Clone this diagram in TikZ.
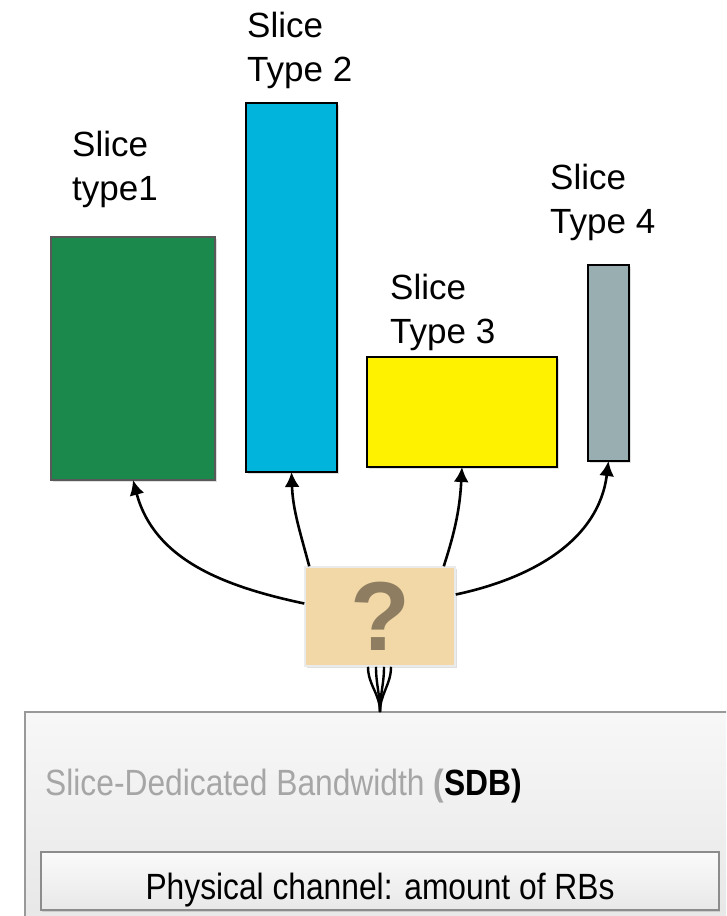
\documentclass[tikz,border=0pt]{standalone}
\usepackage{fontspec}
\setmainfont{Liberation Sans}
\newfontfamily\narrowsans[FakeStretch=0.87]{Liberation Sans}
\usepackage{tikz}
\usetikzlibrary{positioning, calc, arrows.meta, shadows}
\definecolor{sgreen}{HTML}{1B894B}
\definecolor{sblue}{HTML}{00B4DC}
\definecolor{sgrey}{HTML}{99AEB0}
\definecolor{qfill}{HTML}{F2D8A7}
\definecolor{qmark}{HTML}{8E7D60}
\definecolor{sdbgrey}{HTML}{A6A6A6}
\tikzstyle{Arrow} = [
	line width=2.6pt,
	-{Latex[length=15pt, width=15pt]}
	]
\tikzstyle{Fan} = [line width=2.4pt]

\begin{document}
\begin{tikzpicture}[x=1pt, y=1pt,
slicebox/.style={rectangle,
	anchor=north west,
	inner sep=0pt, outer sep=0pt,
	line width=1.2pt, draw=black,
	drop shadow={shadow xshift=1.5pt, shadow yshift=-2pt, opacity=0.25}
	},
slicetext/.style={anchor=base west, inner sep=0pt, align=left,
	font=\fontsize{35}{44}\selectfont
	},
greybox/.style={rectangle, anchor=north west,
	inner sep=0pt, outer sep=0pt,
	line width=1.2pt, draw=black!40,
	top color=black!3, bottom color=black!10
	}
]
\useasboundingbox (0,0) rectangle (726,-916);
\clip (0,0) rectangle (726,-916);

 \node [slicebox, fill=sgreen, draw=black!65, minimum width=164, minimum height=243] (1) at (51,-237) {};
 \node [slicebox, fill=sblue, minimum width=91, minimum height=369] (2) at (246,-103) {};
 \node [slicebox, fill=yellow, minimum width=190, minimum height=110] (3) at (367,-357) {};
 \node [slicebox, fill=sgrey, minimum width=41, minimum height=196] (4) at (588,-265) {};

 \node [slicetext] (1t) at (72,-200) {Slice\\type1};
 \node [slicetext] (2t) at (247,-81) {Slice\\Type 2};
 \node [slicetext] (3t) at (390,-343) {Slice\\Type 3};
 \node [slicetext] (4t) at (550,-233) {Slice\\Type 4};

 \node [greybox, minimum width=720, minimum height=230] (6) at (25,-712) {};
 \node [anchor=base west, inner sep=0pt, text=sdbgrey,
   font=\narrowsans\fontsize{36.5}{40}\selectfont] (6t) at (45,-795)
   {Slice-Dedicated Bandwidth \textbf{(}\textbf{\color{black}SDB)}};
 \node [greybox, draw=black!45, minimum width=678, minimum height=58,
   top color=black!2, bottom color=black!9,
   text height=36pt, text depth=0pt,
   drop shadow={shadow xshift=1pt, shadow yshift=-2pt, opacity=0.25},
   font=\narrowsans\fontsize{36.5}{40}\selectfont] (7) at (41,-852)
   {Physical channel: amount of RBs};

 \node [rectangle, fill=qfill, draw=black!8, line width=1.5pt,
   minimum width=150, minimum height=99, text=qmark,
   font=\bfseries\fontsize{98}{98}\selectfont,
   drop shadow={shadow xshift=1.5pt, shadow yshift=-2pt, opacity=0.25}] (5) at (380,-616.5) {?};

 \draw[Arrow] ([yshift=13pt]5.west) to [out=168, in=-75] (1.south);
 \draw[Arrow] ([xshift=5pt]5.north west) to [out=105, in=-88] (2.south);
 \draw[Arrow] ([xshift=-12pt]5.north east) to [out=72, in=-93] (3.south);
 \draw[Arrow] ([yshift=22pt]5.east) to [out=12, in=-97] (4.south);

 \coordinate (j) at (5.south |- 6.north);
 \foreach \dx in {-12,-4,4,11}
   \draw[Fan] ([xshift=\dx pt]5.south) to [out=-90, in=90] (j);

\end{tikzpicture}
\end{document}
